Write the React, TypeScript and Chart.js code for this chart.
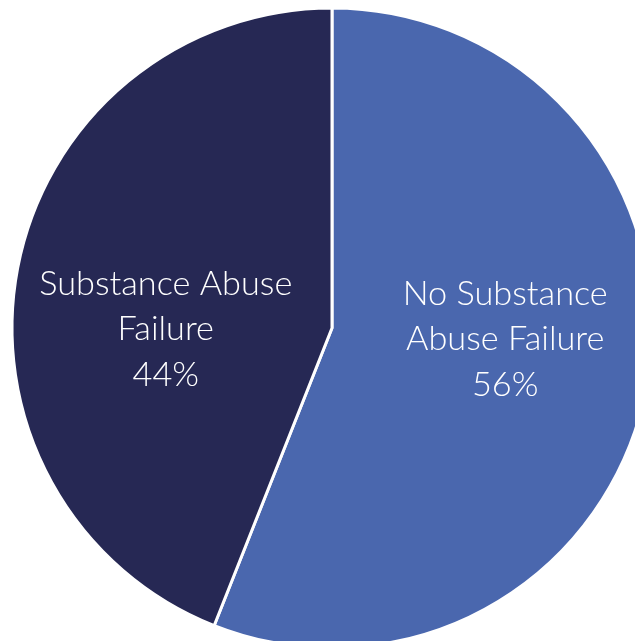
import React, { useEffect, useRef } from "react";
import { Chart, registerables } from "chart.js";

Chart.register(...registerables);

const categories: string[] = ["No Substance Abuse Failure", "Substance Abuse Failure"];
const labelLines: string[][] = [
  ["No Substance", "Abuse Failure"],
  ["Substance Abuse", "Failure"],
];
const values: number[] = [56, 44];
const colors: string[] = ["#4A67AE", "#262854"];

const SIZE = 680;
const CX = 332;
const CY = 328;
const RADIUS = 320;

const labelPlugin = {
  id: "sliceLabels",
  afterDatasetsDraw(chart: any) {
    const ctx = chart.ctx as CanvasRenderingContext2D;
    const meta = chart.getDatasetMeta(0);
    const total = values.reduce((a, b) => a + b, 0);
    ctx.save();
    ctx.fillStyle = "#FFFFFF";
    ctx.textAlign = "center";
    ctx.textBaseline = "middle";
    ctx.font = "300 34.3px Lato";
    meta.data.forEach((arc: any, i: number) => {
      const p = arc.getProps(["x", "y", "startAngle", "endAngle", "outerRadius"], true);
      const mid = (p.startAngle + p.endAngle) / 2;
      const r = p.outerRadius;
      const x = p.x + Math.cos(mid) * r * 0.54 + 3.5;
      const y = p.y + r * 0.0156 + Math.sin(mid) * r * 0.084 + 1;
      const lines = [...labelLines[i], Math.round((values[i] / total) * 100) + "%"];
      const lh = 45.5;
      const y0 = y - ((lines.length - 1) * lh) / 2;
      lines.forEach((t, k) => ctx.fillText(t, x, y0 + k * lh));
    });
    ctx.restore();
  },
};

export default function App() {
  const ref = useRef<HTMLCanvasElement | null>(null);
  useEffect(() => {
    document.body.style.overflow = "hidden";
    const chart = new Chart(ref.current as HTMLCanvasElement, {
      type: "pie",
      data: {
        labels: categories,
        datasets: [
          {
            data: values,
            backgroundColor: colors,
            borderColor: "#FFFFFF",
            borderWidth: 3,
          },
        ],
      },
      options: {
        responsive: false,
        animation: false,
        radius: RADIUS,
        layout: { padding: 0 },
        plugins: {
          legend: { display: false },
          tooltip: { enabled: false },
          title: { display: false },
        },
      } as any,
      plugins: [labelPlugin],
    });
    return () => chart.destroy();
  }, []);
  return (
    <div
      style={{
        position: "fixed",
        left: CX - SIZE / 2,
        top: CY - SIZE / 2,
        width: SIZE,
        height: SIZE,
      }}
    >
      <canvas ref={ref} width={SIZE} height={SIZE} style={{ width: SIZE, height: SIZE }} />
    </div>
  );
}
